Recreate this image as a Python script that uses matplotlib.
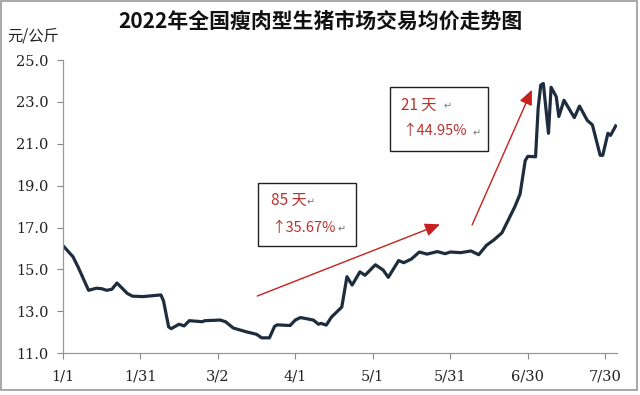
import matplotlib
matplotlib.use('Agg')
import matplotlib.pyplot as plt
from matplotlib.patches import Rectangle

plt.rcParams['font.family'] = ['Noto Sans CJK SC', 'DejaVu Sans']

# 日期（距1月1日的天数）和价格（元/公斤）
days = [0, 4, 6, 10, 13, 15, 17, 19, 21, 25, 27, 31, 38, 39, 41, 42, 45, 47,
        49, 54, 55, 61, 63, 66, 71, 75, 77, 80, 82, 83, 88, 90, 92, 97, 99,
        100, 102, 104, 108, 110, 112, 115, 117, 119, 121, 124, 126, 130, 132,
        135, 138, 141, 145, 148, 150, 154, 158, 161, 164, 167, 170, 173, 175,
        177, 179, 180, 183, 184, 185, 186, 188, 189, 191, 192, 194, 198, 200,
        203, 205, 208, 209, 211, 212, 214]
prices = [16.15, 15.6, 15.1, 14.0, 14.1, 14.08, 14.0, 14.05, 14.35, 13.85,
          13.72, 13.7, 13.78, 13.5, 12.25, 12.17, 12.38, 12.3, 12.55, 12.5,
          12.55, 12.58, 12.5, 12.2, 12.02, 11.9, 11.73, 11.73, 12.28, 12.35,
          12.32, 12.58, 12.7, 12.58, 12.38, 12.42, 12.34, 12.72, 13.2, 14.65,
          14.25, 14.88, 14.72, 14.97, 15.22, 14.97, 14.62, 15.42, 15.32, 15.5,
          15.83, 15.73, 15.85, 15.75, 15.83, 15.8, 15.88, 15.7, 16.15, 16.42,
          16.75, 17.5, 18.0, 18.6, 20.2, 20.4, 20.38, 22.7, 23.8, 23.88, 21.5,
          23.7, 23.25, 22.3, 23.08, 22.25, 22.8, 22.12, 21.9, 20.45, 20.45,
          21.5, 21.4, 21.85]

tick_days = [0, 30, 60, 90, 120, 150, 180, 210]
tick_labels = ['1/1', '1/31', '3/2', '4/1', '5/1', '5/31', '6/30', '7/30']
y_ticks = [11, 13, 15, 17, 19, 21, 23, 25]

red = '#c8201e'
txt_red = '#b8322e'

fig = plt.figure(figsize=(6.4, 3.95), dpi=100)
ax = fig.add_axes([0.098, 0.106, 0.866, 0.742])

ax.plot(days, prices, color='#1e2d3d', linewidth=2.3, solid_joinstyle='round')

ax.set_xlim(0, 214.5)
ax.set_ylim(11, 25)
ax.set_xticks(tick_days)
ax.set_xticklabels(tick_labels, fontsize=10.5, family='DejaVu Serif')
ax.set_yticks(y_ticks)
ax.set_yticklabels([f'{v:.1f}' for v in y_ticks], fontsize=10.5,
                   family='DejaVu Serif')
ax.tick_params(axis='both', colors='#888888', length=4, width=0.8, labelcolor='#222222')
ax.tick_params(axis='x', pad=8)
ax.tick_params(axis='y', pad=6)
for s in ['top', 'right']:
    ax.spines[s].set_visible(False)
for s in ['left', 'bottom']:
    ax.spines[s].set_color('#999999')
    ax.spines[s].set_linewidth(0.9)

# 趋势箭头
ax.annotate('', xy=(147, 17.2), xytext=(74.3, 13.68),
            arrowprops=dict(arrowstyle='-|>,head_length=0.9,head_width=0.4',
                            color=red, lw=1.0))
ax.annotate('', xy=(182, 23.7), xytext=(158, 17.0),
            arrowprops=dict(arrowstyle='-|>,head_length=0.9,head_width=0.4',
                            color=red, lw=1.0))

# 标注框
ax.add_patch(Rectangle((75.7, 16.11), 37.7, 3.01, fill=False,
                       edgecolor='#222222', linewidth=1.0, clip_on=False))
ax.text(80.5, 18.3, '85 天', color=txt_red, fontsize=11, va='center')
ax.text(94.5, 18.2, '↵', color='#777777', fontsize=7, va='center')
ax.text(80.5, 17.0, '↑35.67%', color=txt_red, fontsize=10.5, va='center')
ax.text(106.5, 16.9, '↵', color='#777777', fontsize=7, va='center')

ax.add_patch(Rectangle((126.6, 20.65), 38.1, 3.06, fill=False,
                       edgecolor='#222222', linewidth=1.0, clip_on=False))
ax.text(131.0, 22.85, '21 天', color=txt_red, fontsize=11, va='center')
ax.text(147.5, 22.8, '↵', color='#777777', fontsize=7, va='center')
ax.text(131.5, 21.6, '↑44.95%', color=txt_red, fontsize=10.5, va='center')
ax.text(158.5, 21.5, '↵', color='#777777', fontsize=7, va='center')

fig.text(0.5, 0.945, '2022年全国瘦肉型生猪市场交易均价走势图', ha='center',
         va='center', fontsize=15, fontweight='bold', color='#111111')
fig.text(0.012, 0.91, '元/公斤', ha='left', va='center', fontsize=11,
         color='#222222')

# 外框
fig.patches.append(Rectangle((0.002, 0.012), 0.994, 0.985, fill=False,
                             edgecolor='#999999', linewidth=1.2,
                             transform=fig.transFigure))

fig.savefig('out.png', dpi=100)
